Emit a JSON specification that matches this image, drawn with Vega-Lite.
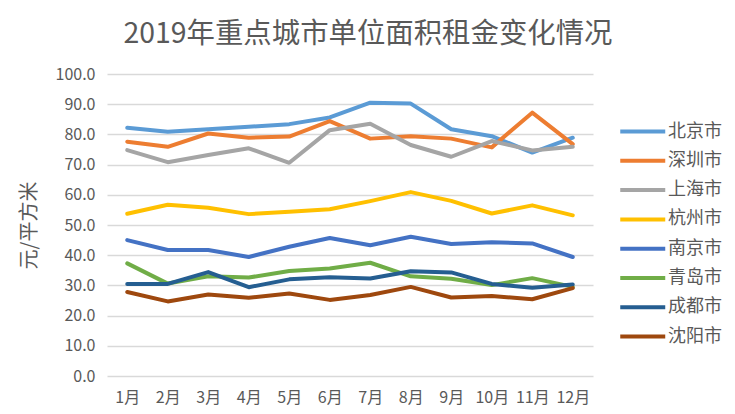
{
  "$schema": "https://vega.github.io/schema/vega-lite/v6.json",
  "width": 486,
  "height": 302,
  "autosize": {"type": "none"},
  "padding": {"left": 107, "top": 74, "right": 142, "bottom": 38},
  "background": "white",
  "title": {
    "text": "2019年重点城市单位面积租金变化情况",
    "font": "Noto Sans CJK SC",
    "fontSize": 28.4,
    "fontWeight": "normal",
    "color": "#595959",
    "anchor": "middle",
    "dx": 18,
    "offset": 17
  },
  "config": {
    "view": {"stroke": null},
    "font": "Noto Sans CJK SC"
  },
  "data": {
    "values": [
      {"month": "1月", "city": "北京市", "value": 82.2},
      {"month": "2月", "city": "北京市", "value": 80.9},
      {"month": "3月", "city": "北京市", "value": 81.7},
      {"month": "4月", "city": "北京市", "value": 82.5},
      {"month": "5月", "city": "北京市", "value": 83.4},
      {"month": "6月", "city": "北京市", "value": 85.6},
      {"month": "7月", "city": "北京市", "value": 90.5},
      {"month": "8月", "city": "北京市", "value": 90.2},
      {"month": "9月", "city": "北京市", "value": 81.7},
      {"month": "10月", "city": "北京市", "value": 79.4},
      {"month": "11月", "city": "北京市", "value": 74.0},
      {"month": "12月", "city": "北京市", "value": 78.9},
      {"month": "1月", "city": "深圳市", "value": 77.6},
      {"month": "2月", "city": "深圳市", "value": 75.9},
      {"month": "3月", "city": "深圳市", "value": 80.3},
      {"month": "4月", "city": "深圳市", "value": 78.9},
      {"month": "5月", "city": "深圳市", "value": 79.3},
      {"month": "6月", "city": "深圳市", "value": 84.4},
      {"month": "7月", "city": "深圳市", "value": 78.6},
      {"month": "8月", "city": "深圳市", "value": 79.4},
      {"month": "9月", "city": "深圳市", "value": 78.6},
      {"month": "10月", "city": "深圳市", "value": 75.7},
      {"month": "11月", "city": "深圳市", "value": 87.2},
      {"month": "12月", "city": "深圳市", "value": 76.8},
      {"month": "1月", "city": "上海市", "value": 74.8},
      {"month": "2月", "city": "上海市", "value": 70.8},
      {"month": "3月", "city": "上海市", "value": 73.2},
      {"month": "4月", "city": "上海市", "value": 75.4},
      {"month": "5月", "city": "上海市", "value": 70.6},
      {"month": "6月", "city": "上海市", "value": 81.4},
      {"month": "7月", "city": "上海市", "value": 83.5},
      {"month": "8月", "city": "上海市", "value": 76.5},
      {"month": "9月", "city": "上海市", "value": 72.6},
      {"month": "10月", "city": "上海市", "value": 77.8},
      {"month": "11月", "city": "上海市", "value": 74.7},
      {"month": "12月", "city": "上海市", "value": 75.9},
      {"month": "1月", "city": "杭州市", "value": 53.7},
      {"month": "2月", "city": "杭州市", "value": 56.7},
      {"month": "3月", "city": "杭州市", "value": 55.7},
      {"month": "4月", "city": "杭州市", "value": 53.6},
      {"month": "5月", "city": "杭州市", "value": 54.4},
      {"month": "6月", "city": "杭州市", "value": 55.2},
      {"month": "7月", "city": "杭州市", "value": 57.9},
      {"month": "8月", "city": "杭州市", "value": 60.9},
      {"month": "9月", "city": "杭州市", "value": 58.0},
      {"month": "10月", "city": "杭州市", "value": 53.8},
      {"month": "11月", "city": "杭州市", "value": 56.5},
      {"month": "12月", "city": "杭州市", "value": 53.2},
      {"month": "1月", "city": "南京市", "value": 45.0},
      {"month": "2月", "city": "南京市", "value": 41.7},
      {"month": "3月", "city": "南京市", "value": 41.7},
      {"month": "4月", "city": "南京市", "value": 39.4},
      {"month": "5月", "city": "南京市", "value": 42.8},
      {"month": "6月", "city": "南京市", "value": 45.7},
      {"month": "7月", "city": "南京市", "value": 43.3},
      {"month": "8月", "city": "南京市", "value": 46.1},
      {"month": "9月", "city": "南京市", "value": 43.7},
      {"month": "10月", "city": "南京市", "value": 44.3},
      {"month": "11月", "city": "南京市", "value": 43.9},
      {"month": "12月", "city": "南京市", "value": 39.4},
      {"month": "1月", "city": "青岛市", "value": 37.3},
      {"month": "2月", "city": "青岛市", "value": 30.6},
      {"month": "3月", "city": "青岛市", "value": 33.0},
      {"month": "4月", "city": "青岛市", "value": 32.6},
      {"month": "5月", "city": "青岛市", "value": 34.8},
      {"month": "6月", "city": "青岛市", "value": 35.6},
      {"month": "7月", "city": "青岛市", "value": 37.5},
      {"month": "8月", "city": "青岛市", "value": 33.0},
      {"month": "9月", "city": "青岛市", "value": 32.2},
      {"month": "10月", "city": "青岛市", "value": 30.1},
      {"month": "11月", "city": "青岛市", "value": 32.4},
      {"month": "12月", "city": "青岛市", "value": 29.5},
      {"month": "1月", "city": "成都市", "value": 30.5},
      {"month": "2月", "city": "成都市", "value": 30.5},
      {"month": "3月", "city": "成都市", "value": 34.4},
      {"month": "4月", "city": "成都市", "value": 29.4},
      {"month": "5月", "city": "成都市", "value": 32.0},
      {"month": "6月", "city": "成都市", "value": 32.7},
      {"month": "7月", "city": "成都市", "value": 32.3},
      {"month": "8月", "city": "成都市", "value": 34.7},
      {"month": "9月", "city": "成都市", "value": 34.3},
      {"month": "10月", "city": "成都市", "value": 30.5},
      {"month": "11月", "city": "成都市", "value": 29.2},
      {"month": "12月", "city": "成都市", "value": 30.3},
      {"month": "1月", "city": "沈阳市", "value": 27.8},
      {"month": "2月", "city": "沈阳市", "value": 24.7},
      {"month": "3月", "city": "沈阳市", "value": 27.0},
      {"month": "4月", "city": "沈阳市", "value": 25.9},
      {"month": "5月", "city": "沈阳市", "value": 27.3},
      {"month": "6月", "city": "沈阳市", "value": 25.2},
      {"month": "7月", "city": "沈阳市", "value": 26.8},
      {"month": "8月", "city": "沈阳市", "value": 29.5},
      {"month": "9月", "city": "沈阳市", "value": 26.0},
      {"month": "10月", "city": "沈阳市", "value": 26.5},
      {"month": "11月", "city": "沈阳市", "value": 25.4},
      {"month": "12月", "city": "沈阳市", "value": 29.1}
    ]
  },
  "mark": {"type": "line", "strokeWidth": 4, "strokeCap": "round", "strokeJoin": "round"},
  "encoding": {
    "x": {
      "field": "month",
      "type": "ordinal",
      "sort": null,
      "scale": {"type": "point", "padding": 0.5},
      "axis": {
        "title": null,
        "labelAngle": 0,
        "labelFontSize": 16,
        "labelColor": "#595959",
        "labelPadding": 13,
        "domain": false,
        "ticks": false,
        "grid": false
      }
    },
    "y": {
      "field": "value",
      "type": "quantitative",
      "scale": {"domain": [0, 100], "nice": false},
      "axis": {
        "title": "元/平方米",
        "titleFontSize": 20,
        "titleFontWeight": "normal",
        "titleColor": "#595959",
        "titlePadding": 16,
        "values": [0, 10, 20, 30, 40, 50, 60, 70, 80, 90, 100],
        "format": ".1f",
        "labelFontSize": 16,
        "labelColor": "#595959",
        "labelPadding": 12,
        "domain": false,
        "ticks": false,
        "grid": true,
        "gridColor": "#D9D9D9",
        "gridWidth": 1.5
      }
    },
    "color": {
      "field": "city",
      "type": "nominal",
      "scale": {
        "domain": ["北京市", "深圳市", "上海市", "杭州市", "南京市", "青岛市", "成都市", "沈阳市"],
        "range": ["#5B9BD5", "#ED7D31", "#A5A5A5", "#FFC000", "#4472C4", "#70AD47", "#255E91", "#9E480E"]
      },
      "legend": {
        "title": null,
        "orient": "none",
        "legendX": 511,
        "legendY": 44,
        "symbolType": "M-1,0H3",
        "symbolSize": 506,
        "symbolStrokeWidth": 4,
        "labelOffset": 23,
        "labelFontSize": 18,
        "labelColor": "#595959",
        "rowPadding": 6.3
      }
    }
  }
}
